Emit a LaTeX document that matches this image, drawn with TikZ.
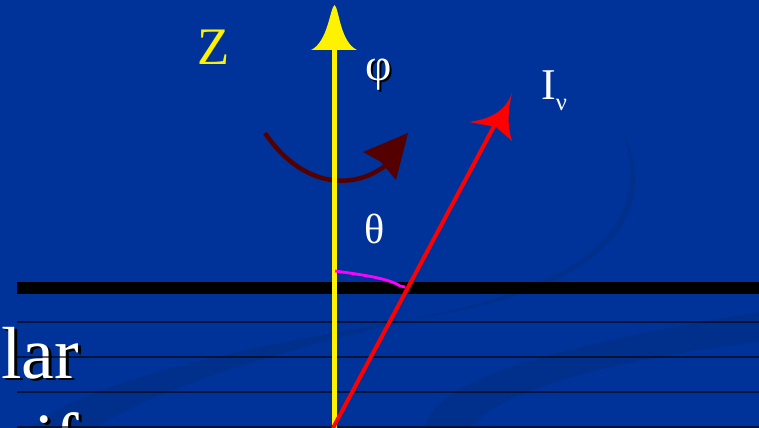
\documentclass[tikz,border=0pt]{standalone}
\usepackage{fontspec}
\setmainfont{Liberation Serif}
\begin{document}
\begin{tikzpicture}[x=0.02cm,y=-0.02cm,
  lbl/.style={inner sep=0pt, text=white},
  shadowlbl/.style={inner sep=0pt, text=black},
  thin rule/.style={draw=black, line width=1.6*0.567pt},
  swoosh/.style={fill=swooshblue, draw=none}]
\definecolor{bgblue}{RGB}{0,51,153}
\definecolor{swooshblue}{RGB}{0,47,140}
\definecolor{darkarc}{RGB}{85,0,0}
\definecolor{mag}{RGB}{255,0,255}
\useasboundingbox (0,0) rectangle (759,428);
\clip (0,0) rectangle (759,428);
\fill[bgblue] (0,0) rectangle (759,428);
% background swooshes
\path[swoosh] (620,125) .. controls (660,200) and (630,285) .. (420,318)
  .. controls (220,350) and (80,385) .. (30,428) -- (95,428)
  .. controls (160,385) and (300,345) .. (460,308)
  .. controls (620,270) and (650,200) .. (620,125) -- cycle;
\path[swoosh] (425,428) .. controls (430,380) and (560,345) .. (759,312)
  -- (759,342) .. controls (610,360) and (500,390) .. (470,428) -- cycle;
% text at left
\node[shadowlbl, anchor=base west, font=\fontsize{42}{42}\selectfont] at (4,380) {lar};
\node[lbl, anchor=base west, font=\fontsize{42}{42}\selectfont] (lar) at (1,378) {lar};
\node[shadowlbl, anchor=base west, font=\fontsize{42}{42}\selectfont] at (37,466) {if};
\node[lbl, anchor=base west, font=\fontsize{42}{42}\selectfont] (if) at (34,464) {if};
% layers
\coordinate (bl) at (17,288); \coordinate (br) at (759,288);
\draw[line width=12*0.567pt] (bl) -- (br);
\coordinate (l1a) at (17,322); \coordinate (l1b) at (759,322);
\coordinate (l2a) at (17,357); \coordinate (l2b) at (759,357);
\coordinate (l3a) at (17,392); \coordinate (l3b) at (759,392);
\coordinate (l4a) at (17,427); \coordinate (l4b) at (759,427);
\draw[thin rule, draw opacity=0.6] (l1a) -- (l1b);
\draw[thin rule, draw opacity=0.6] (l2a) -- (l2b);
\draw[thin rule, draw opacity=0.6] (l3a) -- (l3b);
\draw[thin rule, draw opacity=0.6] (l4a) -- (l4b);
% dark red rotation arc
\coordinate (as) at (265,133); \coordinate (ae) at (385,166);
\draw[darkarc, line width=4.5*0.567pt] (as) .. controls (300,185) and (350,192) .. (ae);
\fill[darkarc] (408,133) -- (363,152) -- (381,162) -- (396,180) -- cycle;
% yellow axis
\coordinate (o) at (334.5,428); \coordinate (zt) at (334.5,48);
\draw[yellow, line width=5*0.567pt] (o) -- (zt);
\fill[yellow] (334.5,5) .. controls (339,8) and (340,42) .. (357,50)
  -- (311,50) .. controls (328,42) and (330,8) .. (334.5,5) -- cycle;
% magenta angle
\coordinate (ma) at (335,271); \coordinate (mb) at (405,287);
\draw[mag, line width=2.8*0.567pt] (ma) .. controls (365,275) and (390,279) .. (400,286) -- (mb);
% red ray
\coordinate (ro) at (333,428); \coordinate (rt) at (500,115);
\draw[red, line width=4*0.567pt] (ro) -- (rt);
\fill[red] (512,93) .. controls (505,112) and (490,119) .. (469,122)
  -- (496,127) -- (512,141) .. controls (507,125) and (508,110) .. (512,93) -- cycle;
% labels
\node[lbl, text=yellow, font=\fontsize{30}{30}\selectfont] (Z) at (214,47) {Z};
\node[shadowlbl, font=\fontsize{26}{26}\selectfont] at (381,77) {φ};
\node[lbl, font=\fontsize{26}{26}\selectfont] (phi) at (379,75) {φ};
\node[lbl, font=\fontsize{24}{24}\selectfont] (theta) at (375,229) {θ};
\node[lbl, anchor=base west, font=\fontsize{25}{25}\selectfont] (I) at (541,100) {I\raisebox{-0.25em}{\fontsize{14}{14}\selectfont ν}};
\end{tikzpicture}
\end{document}
